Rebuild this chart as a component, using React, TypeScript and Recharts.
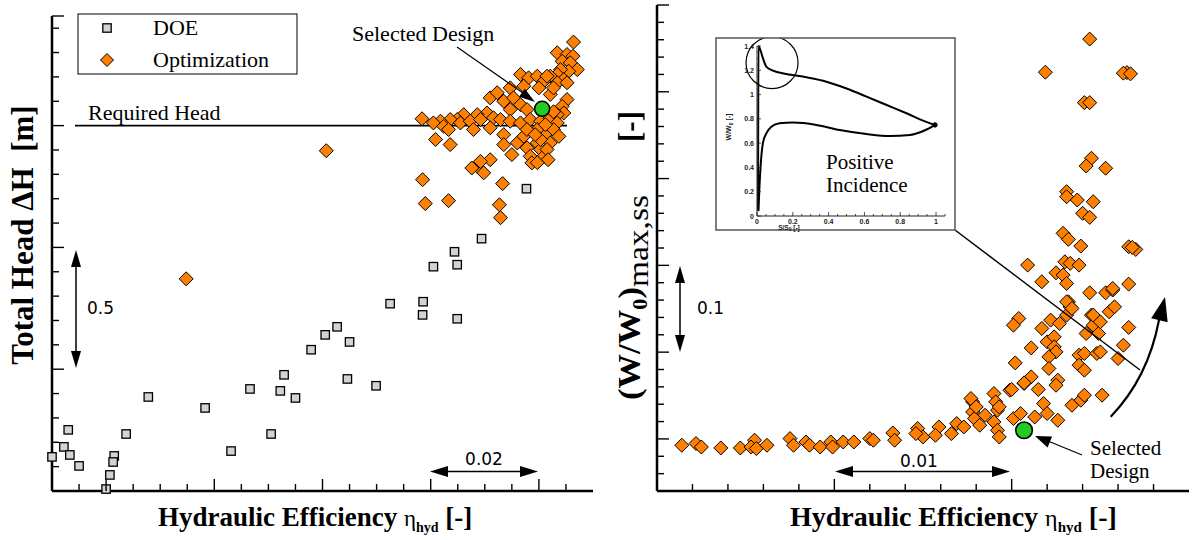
import { ScatterChart, Scatter, XAxis, YAxis, ReferenceLine, LineChart, Line, ReferenceDot } from 'recharts';

// left panel: hydraulic efficiency vs total head
const doePoints: [number, number][] = [
  [0.8377, 1.241], [0.8294, 1.036], [0.8244, 0.982], [0.8249, 0.929], [0.8205, 0.921],
  [0.8125, 0.769], [0.8186, 0.777], [0.8185, 0.723], [0.8249, 0.707], [0.8027, 0.674],
  [0.8005, 0.641], [0.805, 0.612], [0.7979, 0.58], [0.7929, 0.477], [0.7866, 0.419],
  [0.7922, 0.411], [0.795, 0.382], [0.7678, 0.386], [0.7783, 0.341], [0.8046, 0.46],
  [0.8099, 0.432], [0.753, 0.251], [0.7637, 0.234], [0.7905, 0.234], [0.7831, 0.164],
  [0.7522, 0.181], [0.7533, 0.148], [0.75, 0.14], [0.7615, 0.144], [0.7613, 0.119],
  [0.755, 0.103], [0.7607, 0.066], [0.76, 0.008],
];

const optLeftPoints: [number, number][] = [
  [0.7748, 0.871], [0.8007, 1.397], [0.8185, 1.278], [0.819, 1.18], [0.8233, 1.192],
  [0.8333, 1.262], [0.8327, 1.175], [0.8329, 1.122],
  [0.8286, 1.333], [0.8298, 1.306], [0.831, 1.36], [0.8276, 1.326], [0.8292, 1.353],
  [0.8464, 1.843], [0.8434, 1.799], [0.8452, 1.792], [0.8463, 1.785], [0.8443, 1.764],
  [0.8458, 1.758], [0.8471, 1.73], [0.8455, 1.723], [0.844, 1.73], [0.8434, 1.71],
  [0.8421, 1.703], [0.8446, 1.689], [0.8366, 1.71], [0.8381, 1.696], [0.8397, 1.703],
  [0.8409, 1.682], [0.8415, 1.703], [0.8434, 1.676], [0.8452, 1.676], [0.8347, 1.655],
  [0.8372, 1.662], [0.84, 1.655], [0.8421, 1.628], [0.8427, 1.655], [0.8452, 1.607],
  [0.8443, 1.579], [0.8446, 1.552], [0.831, 1.614], [0.8323, 1.635], [0.8335, 1.6],
  [0.8353, 1.614], [0.8347, 1.566], [0.8366, 1.586], [0.8378, 1.566], [0.8304, 1.552],
  [0.8286, 1.545], [0.8261, 1.545], [0.8249, 1.525], [0.8236, 1.525], [0.8218, 1.518],
  [0.8205, 1.511], [0.8184, 1.528], [0.8224, 1.497], [0.8255, 1.511], [0.8273, 1.518],
  [0.8292, 1.525], [0.8316, 1.532], [0.8329, 1.525], [0.8347, 1.518], [0.8366, 1.511],
  [0.8384, 1.525], [0.8403, 1.518], [0.8421, 1.532], [0.8434, 1.545], [0.8434, 1.511],
  [0.8209, 1.443], [0.8233, 1.484], [0.8236, 1.422], [0.8279, 1.484], [0.831, 1.491],
  [0.8335, 1.463], [0.8335, 1.422], [0.835, 1.381], [0.836, 1.429], [0.8372, 1.456],
  [0.8378, 1.409], [0.8384, 1.374], [0.8387, 1.347], [0.8397, 1.429], [0.8403, 1.402],
  [0.8409, 1.374], [0.8415, 1.47], [0.8421, 1.429], [0.8427, 1.484], [0.8437, 1.456],
  [0.8397, 1.484], [0.8378, 1.484], [0.8415, 1.402], [0.8403, 1.443], [0.8412, 1.504],
  [0.8393, 1.463], [0.8417, 1.36], [0.8397, 1.348], [0.8427, 1.557],
];

const selectedLeft: [number, number][] = [[0.8406, 1.569]];

// right panel: hydraulic efficiency vs (W/W0)max,ss
const optRightPoints: [number, number][] = [
  [0.8014, 1.1927], [0.8022, 1.1947], [0.8025, 1.1907], [0.8036, 1.1896], [0.8047, 1.1896],
  [0.8055, 1.1985], [0.8053, 1.1907], [0.8056, 1.1889], [0.8062, 1.1927], [0.8075, 1.2004],
  [0.8077, 1.1927], [0.8084, 1.1965], [0.8086, 1.1927], [0.8092, 1.1907], [0.8098, 1.1965],
  [0.8099, 1.1907], [0.8105, 1.1965], [0.8111, 1.1965], [0.812, 1.2004], [0.8122, 1.1985],
  [0.8133, 1.2069], [0.8134, 1.1985], [0.8147, 1.212], [0.815, 1.2023], [0.8146, 1.2062],
  [0.8159, 1.2138], [0.8157, 1.2042], [0.8166, 1.2062], [0.8169, 1.2177], [0.8173, 1.2138],
  [0.8178, 1.2427], [0.8178, 1.2311], [0.8179, 1.2235], [0.8182, 1.2158], [0.8185, 1.2273],
  [0.819, 1.2523], [0.8191, 1.2427], [0.8192, 1.2331], [0.819, 1.2196], [0.8192, 1.21],
  [0.8193, 1.2023], [0.8199, 1.2561], [0.8201, 1.2235], [0.8205, 1.2293], [0.8207, 1.2639],
  [0.8213, 1.2253], [0.8177, 1.2466], [0.818, 1.2369], [0.8193, 1.2369],
  [0.8204, 1.3388], [0.8201, 1.3311], [0.8217, 1.3273], [0.8222, 1.3369], [0.8227, 1.3331],
  [0.8231, 1.3427], [0.8233, 1.3522], [0.8232, 1.358], [0.8245, 1.3427], [0.8246, 1.3311],
  [0.8242, 1.3215], [0.8249, 1.3215], [0.822, 1.3119], [0.8224, 1.3176], [0.8224, 1.3061],
  [0.8225, 1.3003], [0.8221, 1.2946], [0.8221, 1.2812], [0.8211, 1.3049], [0.8202, 1.2876],
  [0.8211, 1.2715], [0.8207, 1.2646], [0.8215, 1.257], [0.8226, 1.2677], [0.8225, 1.2619],
  [0.82, 1.257], [0.8238, 1.2965], [0.8241, 1.2985], [0.8238, 1.285], [0.8241, 1.2792],
  [0.8248, 1.2985], [0.8218, 1.2408], [0.822, 1.2293], [0.8226, 1.2215], [0.8234, 1.2388],
  [0.8239, 1.2446], [0.8241, 1.2504],
  [0.8245, 1.5234], [0.8242, 1.5145], [0.8253, 1.5119], [0.8231, 1.4849], [0.8231, 1.4791],
  [0.8237, 1.4753], [0.8246, 1.4733], [0.824, 1.46], [0.8244, 1.4553], [0.8229, 1.4369],
  [0.8232, 1.43], [0.8239, 1.4222], [0.8266, 1.4214], [0.827, 1.4184], [0.8268, 1.4207],
  [0.8209, 1.4003], [0.8217, 1.3811], [0.8225, 1.3914], [0.823, 1.4041], [0.8233, 1.4023],
  [0.8238, 1.4003], [0.8229, 1.3888], [0.8231, 1.3792], [0.8244, 1.3684], [0.8253, 1.3684],
  [0.8257, 1.3715], [0.8266, 1.3784], [0.8231, 1.358], [0.8234, 1.3504], [0.8246, 1.3427],
  [0.8255, 1.3465], [0.8258, 1.3522], [0.8257, 1.3734],
  [0.8244, 1.6607], [0.8219, 1.6226], [0.8265, 1.6221], [0.8263, 1.6215], [0.8267, 1.6207],
  [0.8241, 1.5875], [0.8244, 1.5875],
  [0.825, 1.3349], [0.8266, 1.3285], [0.8263, 1.308], [0.825, 1.3003], [0.826, 1.2927],
  [0.8251, 1.2504],
];

const selectedRight: [number, number][] = [[0.8207, 1.21]];

// inset: blade loading W/W0 vs S/S0
const suctionSide: [number, number][] = [
  [0.006, 0.05], [0.008, 1.4], [0.033, 1.3], [0.052, 1.23], [0.089, 1.197], [0.164, 1.17],
  [0.276, 1.142], [0.388, 1.106], [0.5, 1.05], [0.612, 0.983], [0.724, 0.914], [0.835, 0.846],
  [0.956, 0.769], [0.994, 0.75],
];
const pressureSide: [number, number][] = [
  [0.008, 0.04], [0.014, 0.25], [0.022, 0.45], [0.033, 0.6], [0.052, 0.68], [0.08, 0.735],
  [0.126, 0.764], [0.201, 0.769], [0.332, 0.75], [0.462, 0.708], [0.612, 0.675], [0.742, 0.659],
  [0.854, 0.667], [0.919, 0.694], [0.966, 0.725], [0.994, 0.75],
];

const leftXTicks = [0.755, 0.76, 0.765, 0.77, 0.775, 0.78, 0.785, 0.79, 0.795, 0.8, 0.805, 0.81, 0.815, 0.82, 0.825, 0.83, 0.835, 0.84, 0.845];
const leftXMajor = [0.76, 0.78, 0.8, 0.82, 0.84];
const leftYTicks = [0, 0.1, 0.2, 0.3, 0.4, 0.5, 0.6, 0.7, 0.8, 0.9, 1, 1.1, 1.2, 1.3, 1.4, 1.5, 1.6, 1.7, 1.8, 1.9, 1.95];
const leftYMajor = [0, 0.5, 1, 1.5, 1.95];
const rightXTicks = [0.802, 0.804, 0.806, 0.808, 0.81, 0.812, 0.814, 0.816, 0.818, 0.82, 0.822, 0.824, 0.826, 0.828];
const rightXMajor = [0.81, 0.82];
const rightYTicks = [1.16, 1.18, 1.2, 1.22, 1.24, 1.26, 1.28, 1.3, 1.32, 1.34, 1.36, 1.38, 1.4, 1.42, 1.44, 1.46, 1.48, 1.5, 1.52, 1.54, 1.56, 1.58, 1.6, 1.62, 1.64, 1.66, 1.68, 1.7];
const rightYMajor = [1.2, 1.3, 1.4, 1.5, 1.6, 1.7];
const insetXTicks = [0, 0.05, 0.1, 0.15, 0.2, 0.25, 0.3, 0.35, 0.4, 0.45, 0.5, 0.55, 0.6, 0.65, 0.7, 0.75, 0.8, 0.85, 0.9, 0.95, 1, 1.05];
const insetXLabels = [0, 0.2, 0.4, 0.6, 0.8, 1];
const insetYTicks = [0, 0.05, 0.1, 0.15, 0.2, 0.25, 0.3, 0.35, 0.4, 0.45, 0.5, 0.55, 0.6, 0.65, 0.7, 0.75, 0.8, 0.85, 0.9, 0.95, 1, 1.05, 1.1, 1.15, 1.2, 1.25, 1.3, 1.35, 1.4];
const insetYLabels = [0, 0.2, 0.4, 0.6, 0.8, 1, 1.2, 1.4];

const toXY = (arr: [number, number][]) => arr.map(([x, y]) => ({ x, y }));

const ORANGE = '#ff8000';
const SERIF = '"Liberation Serif", serif';
const SANS = '"DejaVu Sans", sans-serif';
const INSET_FONT = '"Liberation Sans", sans-serif';

const isMajor = (v: number, majors: number[]) => majors.some((m) => Math.abs(m - v) < 1e-7);

const yTick = (majors: number[]) => (props: any) => {
  const { x, y, payload } = props;
  const len = isMajor(payload.value, majors) ? 12 : 7;
  return <line x1={x} y1={y} x2={x + len} y2={y} stroke="#000" strokeWidth={1.4} />;
};
const xTick = (majors: number[]) => (props: any) => {
  const { x, y, payload } = props;
  const len = isMajor(payload.value, majors) ? 12 : 7;
  return <line x1={x} y1={y} x2={x} y2={y - len} stroke="#000" strokeWidth={1.4} />;
};

const insetXTick = (props: any) => {
  const { x, y, payload } = props;
  const major = isMajor(payload.value, insetXLabels);
  return (
    <g>
      <line x1={x} y1={y} x2={x} y2={y - (major ? 4 : 2)} stroke="#222" strokeWidth={0.8} />
      {major && (
        <text x={x} y={y + 7.5} textAnchor="middle" fontFamily={INSET_FONT} fontWeight="bold" fontSize={7} fill="#222">
          {payload.value}
        </text>
      )}
    </g>
  );
};
const insetYTick = (props: any) => {
  const { x, y, payload } = props;
  const major = isMajor(payload.value, insetYLabels);
  return (
    <g>
      <line x1={x} y1={y} x2={x + (major ? 4 : 2)} y2={y} stroke="#222" strokeWidth={0.8} />
      {major && (
        <text x={x - 3} y={y + 2.5} textAnchor="end" fontFamily={INSET_FONT} fontWeight="bold" fontSize={7} fill="#222">
          {payload.value}
        </text>
      )}
    </g>
  );
};

const Diamond = (props: any) => {
  const { cx, cy } = props;
  const h = 7;
  return (
    <path
      d={`M${cx},${cy - h}L${cx + h},${cy}L${cx},${cy + h}L${cx - h},${cy}Z`}
      fill={ORANGE}
      stroke="#000"
      strokeWidth={1}
    />
  );
};
const Square = (props: any) => {
  const { cx, cy } = props;
  return <rect x={cx - 4.2} y={cy - 4.2} width={8.4} height={8.4} fill="#d3d3d3" stroke="#000" strokeWidth={1.3} />;
};
const greenDot = (r: number) => (props: any) => (
  <circle cx={props.cx} cy={props.cy} r={r} fill="#22cc22" stroke="#000" strokeWidth={1.6} />
);

function head(tx: number, ty: number, fx: number, fy: number, len: number, hw: number) {
  const dx = tx - fx;
  const dy = ty - fy;
  const d = Math.hypot(dx, dy);
  const ux = dx / d;
  const uy = dy / d;
  const bx = tx - ux * len;
  const by = ty - uy * len;
  return `${tx},${ty} ${bx - uy * hw},${by + ux * hw} ${bx + uy * hw},${by - ux * hw}`;
}

const axisLine = { stroke: '#000', strokeWidth: 2.5 };

function App() {
  return (
    <div style={{ position: 'absolute', left: 0, top: 0, width: 1198, height: 540, background: '#fff', overflow: 'hidden' }}>
      <div style={{ position: 'absolute', left: 0, top: 0 }}>
        <ScatterChart width={600} height={540} margin={{ top: 16, right: 7, bottom: 48, left: 51 }}>
          <XAxis type="number" dataKey="x" domain={[0.75, 0.85]} ticks={leftXTicks} interval={0}
            tick={xTick(leftXMajor)} tickLine={false} tickSize={0} tickMargin={0} height={1} axisLine={axisLine} />
          <YAxis type="number" dataKey="y" domain={[0, 1.95]} ticks={leftYTicks} interval={0}
            tick={yTick(leftYMajor)} tickLine={false} tickSize={0} tickMargin={0} width={1} axisLine={axisLine} />
          <Scatter data={toXY(doePoints)} shape={Square} isAnimationActive={false} />
          <Scatter data={toXY(optLeftPoints)} shape={Diamond} isAnimationActive={false} />
          <ReferenceLine segment={[{ x: 0.75425, y: 1.5 }, { x: 0.8452, y: 1.5 }]} stroke="#000" strokeWidth={1.6} />
          <Scatter data={toXY(selectedLeft)} shape={greenDot(7.5)} isAnimationActive={false} />
        </ScatterChart>
      </div>

      <div style={{ position: 'absolute', left: 600, top: 0 }}>
        <ScatterChart width={598} height={540} margin={{ top: 5, right: 9, bottom: 48, left: 56 }}>
          <XAxis type="number" dataKey="x" domain={[0.8, 0.83]} ticks={rightXTicks} interval={0}
            tick={xTick(rightXMajor)} tickLine={false} tickSize={0} tickMargin={0} height={1} axisLine={axisLine} />
          <YAxis type="number" dataKey="y" domain={[1.14, 1.7]} ticks={rightYTicks} interval={0}
            tick={yTick(rightYMajor)} tickLine={false} tickSize={0} tickMargin={0} width={1} axisLine={axisLine} />
          <Scatter data={toXY(optRightPoints)} shape={Diamond} isAnimationActive={false} />
          <Scatter data={toXY(selectedRight)} shape={greenDot(8.3)} isAnimationActive={false} />
        </ScatterChart>
      </div>

      <div style={{ position: 'absolute', left: 716, top: 38, width: 239, height: 192, background: '#fff' }}>
        <LineChart width={239} height={192} margin={{ top: 8, right: 10, bottom: 13, left: 40 }}>
          <XAxis type="number" dataKey="x" domain={[0, 1.05]} ticks={insetXTicks} interval={0} tick={insetXTick}
            tickLine={false} tickSize={0} tickMargin={0} height={1} axisLine={{ stroke: '#222' }} />
          <YAxis type="number" dataKey="y" domain={[0, 1.4]} ticks={insetYTicks} interval={0} tick={insetYTick}
            tickLine={false} tickSize={0} tickMargin={0} width={1} axisLine={{ stroke: '#222' }} />
          <Line data={toXY(suctionSide)} dataKey="y" type="monotone" stroke="#000" strokeWidth={2} dot={false} isAnimationActive={false} />
          <Line data={toXY(pressureSide)} dataKey="y" type="monotone" stroke="#000" strokeWidth={2} dot={false} isAnimationActive={false} />
          <ReferenceDot x={0.084} y={1.263} r={26} fill="none" stroke="#000" strokeWidth={1.2} />
          <ReferenceDot x={0.994} y={0.75} r={2.2} fill="#000" stroke="#000" />
        </LineChart>
      </div>

      <svg width={1198} height={540} style={{ position: 'absolute', left: 0, top: 0, pointerEvents: 'none' }}>
        {/* legend */}
        <rect x={78} y={14} width={219} height={60} fill="#fff" stroke="#000" strokeWidth={1} />
        <rect x={102.8} y={23.8} width={8.4} height={8.4} fill="#d3d3d3" stroke="#000" strokeWidth={1.3} />
        <path d="M107,53.5L113.5,60L107,66.5L100.5,60Z" fill={ORANGE} stroke="#000" strokeWidth={1} />
        <text x={153} y={35} fontFamily={SERIF} fontSize={22}>DOE</text>
        <text x={153} y={67} fontFamily={SERIF} fontSize={22}>Optimization</text>

        {/* left annotations */}
        <text x={88} y={120} fontFamily={SERIF} fontSize={22}>Required Head</text>
        <text x={352} y={41} fontFamily={SERIF} fontSize={22}>Selected Design</text>
        <line x1={457} y1={47} x2={523} y2={93} stroke="#000" strokeWidth={1.2} />
        <polygon points={head(535, 102, 457, 47, 16, 5)} fill="#000" />

        <line x1={76} y1={262} x2={76} y2={356} stroke="#000" strokeWidth={1.5} />
        <polygon points={head(76, 250, 76, 300, 17, 5)} fill="#000" />
        <polygon points={head(76, 368, 76, 300, 17, 5)} fill="#000" />
        <text x={87} y={314} fontFamily={SANS} fontSize={17}>0.5</text>

        <line x1={445} y1={471.5} x2={522} y2={471.5} stroke="#000" strokeWidth={1.5} />
        <polygon points={head(430, 471.5, 480, 471.5, 18, 5.5)} fill="#000" />
        <polygon points={head(538, 471.5, 480, 471.5, 18, 5.5)} fill="#000" />
        <text x={484} y={465} fontFamily={SANS} fontSize={17} textAnchor="middle">0.02</text>

        {/* right annotations */}
        <line x1={680} y1={280} x2={680} y2={338} stroke="#000" strokeWidth={1.5} />
        <polygon points={head(680, 266, 680, 310, 17, 5)} fill="#000" />
        <polygon points={head(680, 352, 680, 310, 17, 5)} fill="#000" />
        <text x={697} y={314} fontFamily={SANS} fontSize={17}>0.1</text>

        <line x1={848} y1={471.5} x2={996} y2={471.5} stroke="#000" strokeWidth={1.5} />
        <polygon points={head(835, 471.5, 920, 471.5, 18, 5.5)} fill="#000" />
        <polygon points={head(1010, 471.5, 920, 471.5, 18, 5.5)} fill="#000" />
        <text x={900} y={467} fontFamily={SANS} fontSize={17}>0.01</text>

        <text x={1090} y={455} fontFamily={SERIF} fontSize={21}>Selected</text>
        <text x={1090} y={478} fontFamily={SERIF} fontSize={21}>Design</text>
        <line x1={1082} y1={455} x2={1048} y2={441} stroke="#000" strokeWidth={1.2} />
        <polygon points={head(1035, 436, 1082, 455, 16, 6)} fill="#000" />

        <line x1={955} y1={230} x2={1140} y2={370} stroke="#000" strokeWidth={1.5} />
        <path d="M1110.7,416.7 Q1148,378 1159,320" fill="none" stroke="#000" strokeWidth={2.2} />
        <polygon points={head(1165, 297, 1159, 322, 24, 8.5)} fill="#000" />

        {/* inset frame and texts */}
        <rect x={716} y={38} width={239} height={192} fill="none" stroke="#555" strokeWidth={1.5} />
        <text x={826} y={169} fontFamily={SERIF} fontSize={21}>Positive</text>
        <text x={826} y={192} fontFamily={SERIF} fontSize={21}>Incidence</text>
        <text transform="rotate(-90)" x={-127} y={731} textAnchor="middle" fontFamily={INSET_FONT}
          fontWeight="bold" fontSize={7} fill="#222">
          W/W<tspan fontSize={5} dy={1.5}>0</tspan><tspan dy={-1.5}> [-]</tspan>
        </text>
        <text x={789} y={229.5} textAnchor="middle" fontFamily={INSET_FONT} fontWeight="bold"
          fontSize={6.5} fill="#222">
          S/S<tspan fontSize={5} dy={1}>0</tspan><tspan dy={-1}> [-]</tspan>
        </text>

        {/* axis titles */}
        <text x={158} y={526} fontFamily={SERIF} fontWeight="bold" fontSize={27}>
          Hydraulic Efficiency <tspan fontWeight="normal" fontSize={23}>η</tspan>
          <tspan fontSize={14} dy={6}>hyd</tspan>
          <tspan dy={-6}> [-]</tspan>
        </text>
        <text x={790} y={526} fontFamily={SERIF} fontWeight="bold" fontSize={28}>
          Hydraulic Efficiency <tspan fontWeight="normal" fontSize={24}>η</tspan>
          <tspan fontSize={15} dy={6}>hyd</tspan>
          <tspan dy={-6}> [-]</tspan>
        </text>
        <text transform="rotate(-90)" x={-235} y={33} textAnchor="middle" fontFamily={SERIF} fontWeight="bold"
          fontSize={31} style={{ whiteSpace: 'pre' }}>
          Total Head ΔH  [m]
        </text>
        <text transform="rotate(-90)" x={-400} y={640} fontFamily={SERIF} fontWeight="bold"
          fontSize={31} textLength={205} lengthAdjust="spacingAndGlyphs">
          (W/W<tspan fontSize={20} dy={7}>0</tspan>
          <tspan dy={-7}>)</tspan>
          <tspan fontWeight="normal" fontSize={30} dy={8}>max,ss</tspan>
        </text>
        <text transform="rotate(-90)" x={-142} y={640} fontFamily={SERIF} fontWeight="bold" fontSize={31}>
          [-]
        </text>
      </svg>
    </div>
  );
}

export default App;
